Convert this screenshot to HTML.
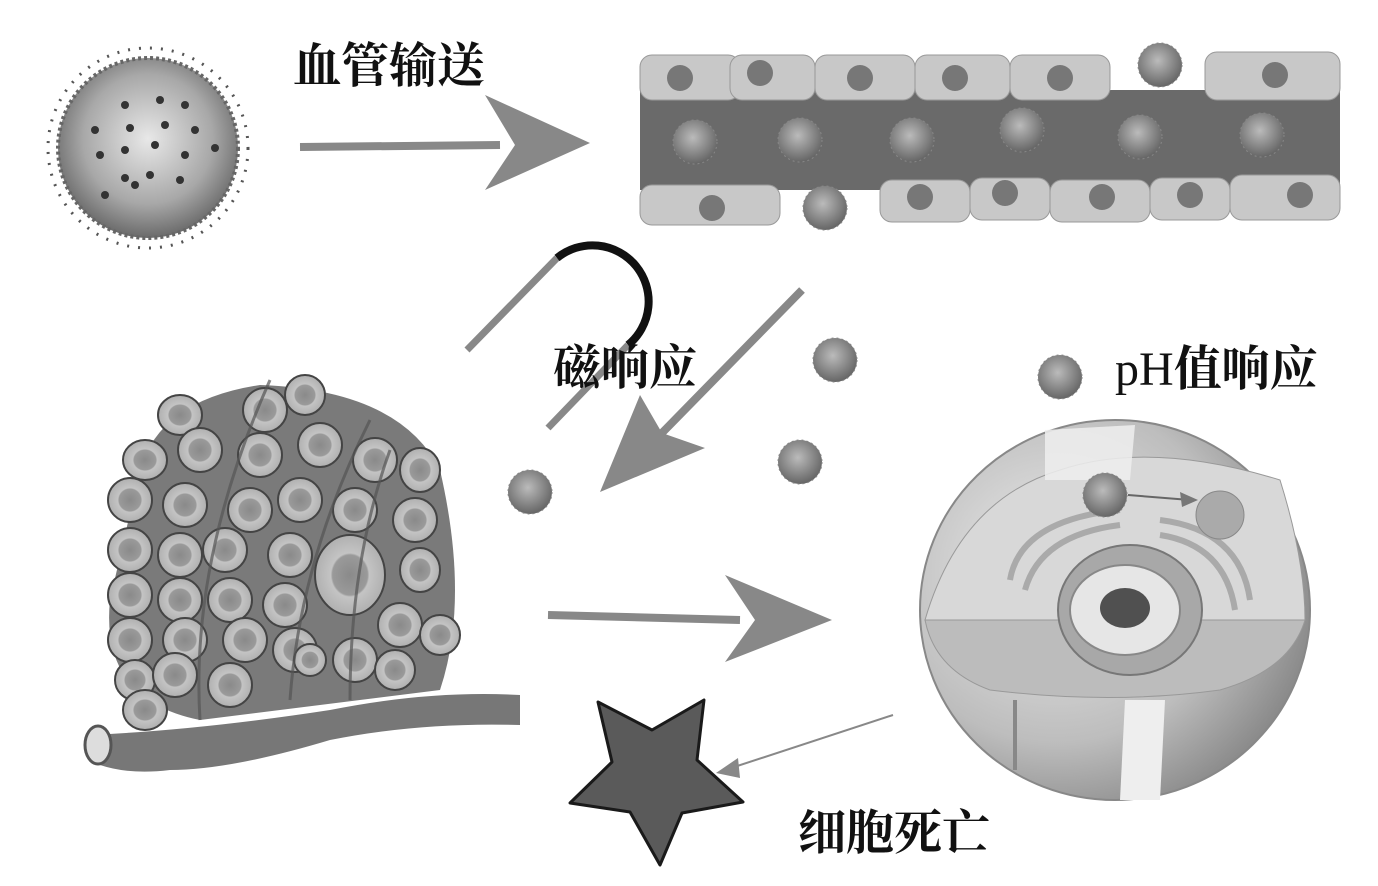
<!DOCTYPE html>
<html><head><meta charset="utf-8"><style>
html,body{margin:0;padding:0;background:#fff;}
svg{display:block}
text{font-family:"Liberation Serif","Noto Serif CJK SC",serif;font-weight:bold;fill:#111}
</style></head><body>
<svg width="1378" height="886" viewBox="0 0 1378 886" xmlns="http://www.w3.org/2000/svg">
<defs>
<radialGradient id="sph" cx="0.5" cy="0.45" r="0.6">
<stop offset="0" stop-color="#e8e8e8"/><stop offset="0.6" stop-color="#a8a8a8"/><stop offset="1" stop-color="#5a5a5a"/></radialGradient>
<radialGradient id="np" cx="0.45" cy="0.4" r="0.6">
<stop offset="0" stop-color="#bbb"/><stop offset="1" stop-color="#666"/></radialGradient>
<radialGradient id="cellg" cx="0.35" cy="0.4" r="0.75">
<stop offset="0" stop-color="#ececec"/><stop offset="0.6" stop-color="#bdbdbd"/><stop offset="1" stop-color="#7a7a7a"/></radialGradient>
<radialGradient id="tc" cx="0.5" cy="0.5" r="0.5">
<stop offset="0" stop-color="#8a8a8a"/><stop offset="0.5" stop-color="#9a9a9a"/><stop offset="0.55" stop-color="#c4c4c4"/><stop offset="1" stop-color="#b0b0b0"/></radialGradient>
<g id="p"><circle r="22" fill="url(#np)" stroke="#888" stroke-width="1" stroke-dasharray="2 3"/></g>
</defs>

<circle cx="148" cy="148" r="100" fill="none" stroke="#555" stroke-width="3" stroke-dasharray="2 9"/>
<circle cx="148" cy="148" r="90" fill="url(#sph)" stroke="#666" stroke-width="4" stroke-dasharray="3 3"/>
<g fill="#333">
<circle cx="95" cy="130" r="4"/><circle cx="125" cy="105" r="4"/><circle cx="160" cy="100" r="4"/><circle cx="185" cy="105" r="4"/>
<circle cx="130" cy="128" r="4"/><circle cx="165" cy="125" r="4"/><circle cx="195" cy="130" r="4"/>
<circle cx="100" cy="155" r="4"/><circle cx="125" cy="150" r="4"/><circle cx="155" cy="145" r="4"/><circle cx="185" cy="155" r="4"/><circle cx="215" cy="148" r="4"/>
<circle cx="125" cy="178" r="4"/><circle cx="150" cy="175" r="4"/><circle cx="180" cy="180" r="4"/>
<circle cx="105" cy="195" r="4"/><circle cx="135" cy="185" r="4"/>
</g>

<text x="293" y="82" font-size="48">血管输送</text>
<line x1="300" y1="147" x2="500" y2="145" stroke="#888" stroke-width="8"/>
<polygon points="590,143 485,95 515,145 485,190" fill="#888"/>

<rect x="640" y="90" width="700" height="100" fill="#6a6a6a"/>
<g fill="#c8c8c8" stroke="#999">
<rect x="640" y="55" width="100" height="45" rx="12"/>
<rect x="730" y="55" width="85" height="45" rx="12"/>
<rect x="815" y="55" width="100" height="45" rx="12"/>
<rect x="915" y="55" width="95" height="45" rx="12"/>
<rect x="1010" y="55" width="100" height="45" rx="12"/>
<rect x="1205" y="52" width="135" height="48" rx="12"/>
<rect x="640" y="185" width="140" height="40" rx="12"/>
<rect x="880" y="180" width="90" height="42" rx="12"/>
<rect x="970" y="178" width="80" height="42" rx="12"/>
<rect x="1050" y="180" width="100" height="42" rx="12"/>
<rect x="1150" y="178" width="80" height="42" rx="12"/>
<rect x="1230" y="175" width="110" height="45" rx="12"/>
</g>
<g fill="#777">
<circle cx="680" cy="78" r="13"/><circle cx="760" cy="73" r="13"/><circle cx="860" cy="78" r="13"/><circle cx="955" cy="78" r="13"/><circle cx="1060" cy="78" r="13"/><circle cx="1275" cy="75" r="13"/>
<circle cx="712" cy="208" r="13"/><circle cx="920" cy="197" r="13"/><circle cx="1005" cy="193" r="13"/><circle cx="1102" cy="197" r="13"/><circle cx="1190" cy="195" r="13"/><circle cx="1300" cy="195" r="13"/>
</g>
<use href="#p" x="1160" y="65"/><use href="#p" x="695" y="142"/><use href="#p" x="800" y="140"/><use href="#p" x="912" y="140"/><use href="#p" x="1022" y="130"/><use href="#p" x="1140" y="137"/><use href="#p" x="1262" y="135"/><use href="#p" x="825" y="208"/>

<line x1="467" y1="350" x2="557" y2="258" stroke="#888" stroke-width="7"/>
<line x1="548" y1="428" x2="628" y2="345" stroke="#888" stroke-width="7"/>
<path d="M557,258 A55,55 0 0 1 628,345" fill="none" stroke="#111" stroke-width="8"/>
<text x="553" y="384" font-size="48">磁响应</text>
<line x1="802" y1="290" x2="660" y2="435" stroke="#888" stroke-width="8"/>
<polygon points="600,492 640,395 662,433 705,448" fill="#888"/>
<use href="#p" x="835" y="360"/><use href="#p" x="800" y="462"/><use href="#p" x="530" y="492"/>

<path d="M140,470 Q160,400 260,385 Q400,390 440,470 Q470,600 440,690 L200,720 Q100,700 110,600 Z" fill="#7a7a7a"/>
<path d="M90,735 Q200,730 330,710 Q430,690 520,695 L520,725 Q420,722 330,740 Q230,770 170,770 Q130,775 100,765 Z" fill="#777"/>
<ellipse cx="98" cy="745" rx="13" ry="19" fill="#ddd" stroke="#555" stroke-width="3"/>
<g fill="url(#tc)" stroke="#444" stroke-width="2">
<ellipse cx="180" cy="415" rx="22" ry="20"/><ellipse cx="265" cy="410" rx="22" ry="22"/><ellipse cx="305" cy="395" rx="20" ry="20"/>
<ellipse cx="145" cy="460" rx="22" ry="20"/><ellipse cx="200" cy="450" rx="22" ry="22"/><ellipse cx="260" cy="455" rx="22" ry="22"/><ellipse cx="320" cy="445" rx="22" ry="22"/><ellipse cx="375" cy="460" rx="22" ry="22"/><ellipse cx="420" cy="470" rx="20" ry="22"/>
<ellipse cx="130" cy="500" rx="22" ry="22"/><ellipse cx="185" cy="505" rx="22" ry="22"/><ellipse cx="250" cy="510" rx="22" ry="22"/><ellipse cx="300" cy="500" rx="22" ry="22"/><ellipse cx="355" cy="510" rx="22" ry="22"/><ellipse cx="415" cy="520" rx="22" ry="22"/>
<ellipse cx="130" cy="550" rx="22" ry="22"/><ellipse cx="180" cy="555" rx="22" ry="22"/><ellipse cx="225" cy="550" rx="22" ry="22"/><ellipse cx="290" cy="555" rx="22" ry="22"/><ellipse cx="350" cy="575" rx="35" ry="40"/><ellipse cx="420" cy="570" rx="20" ry="22"/>
<ellipse cx="130" cy="595" rx="22" ry="22"/><ellipse cx="180" cy="600" rx="22" ry="22"/><ellipse cx="230" cy="600" rx="22" ry="22"/><ellipse cx="285" cy="605" rx="22" ry="22"/><ellipse cx="400" cy="625" rx="22" ry="22"/><ellipse cx="440" cy="635" rx="20" ry="20"/>
<ellipse cx="130" cy="640" rx="22" ry="22"/><ellipse cx="185" cy="640" rx="22" ry="22"/><ellipse cx="245" cy="640" rx="22" ry="22"/><ellipse cx="295" cy="650" rx="22" ry="22"/><ellipse cx="355" cy="660" rx="22" ry="22"/>
<ellipse cx="135" cy="680" rx="20" ry="20"/><ellipse cx="175" cy="675" rx="22" ry="22"/><ellipse cx="230" cy="685" rx="22" ry="22"/><ellipse cx="310" cy="660" rx="16" ry="16"/><ellipse cx="395" cy="670" rx="20" ry="20"/>
<ellipse cx="145" cy="710" rx="22" ry="20"/>
</g>
<g fill="none" stroke="#555" stroke-width="3" opacity="0.7">
<path d="M200,720 Q190,560 270,380"/><path d="M290,700 Q300,560 370,420"/><path d="M350,700 Q350,560 390,450"/>
</g>
<line x1="548" y1="615" x2="740" y2="620" stroke="#888" stroke-width="8"/>
<polygon points="832,620 725,575 755,620 725,662" fill="#888"/>

<ellipse cx="1115" cy="610" rx="195" ry="190" fill="url(#cellg)" stroke="#888" stroke-width="2"/>
<path d="M925,620 Q960,500 1060,470 Q1150,440 1280,480 Q1305,560 1305,620 Z" fill="#d8d8d8" stroke="#999"/>
<path d="M925,620 L1305,620 Q1290,670 1220,690 Q1110,705 990,690 Q935,670 925,620 Z" fill="#bcbcbc" stroke="#999"/>
<g fill="none" stroke="#aaa" stroke-width="6">
<path d="M1010,580 Q1020,520 1120,510"/><path d="M1025,590 Q1040,535 1120,525"/>
<path d="M1250,600 Q1240,530 1160,520"/><path d="M1235,610 Q1225,545 1160,535"/>
</g>
<ellipse cx="1130" cy="610" rx="72" ry="65" fill="#a8a8a8" stroke="#777" stroke-width="2"/>
<ellipse cx="1125" cy="610" rx="55" ry="45" fill="#e6e6e6" stroke="#888" stroke-width="2"/>
<ellipse cx="1125" cy="608" rx="25" ry="20" fill="#505050"/>
<circle cx="1220" cy="515" r="24" fill="#aaa" stroke="#888"/>
<path d="M1125,700 L1165,700 L1160,800 L1120,800 Z" fill="#eee"/>
<path d="M1045,430 L1135,425 L1130,480 L1045,480 Z" fill="#eee" opacity="0.85"/>
<line x1="1015" y1="700" x2="1015" y2="770" stroke="#888" stroke-width="4"/>
<use href="#p" x="1105" y="495"/>
<line x1="1128" y1="495" x2="1190" y2="500" stroke="#666" stroke-width="2"/>
<polygon points="1198,500 1180,492 1182,507" fill="#777"/>
<use href="#p" x="1060" y="377"/>
<text x="1115" y="385" font-size="48" style="font-weight:normal">pH<tspan style="font-weight:bold">值响应</tspan></text>

<polygon points="598,702 652,730 704,700 697,760 743,802 682,813 660,865 630,812 570,803 612,762" fill="#5a5a5a" stroke="#1a1a1a" stroke-width="3" stroke-linejoin="round"/>
<line x1="893" y1="715" x2="725" y2="770" stroke="#888" stroke-width="2"/>
<polygon points="716,773 738,758 740,778" fill="#888"/>
<text x="798" y="849" font-size="48">细胞死亡</text>
</svg>
</body></html>
